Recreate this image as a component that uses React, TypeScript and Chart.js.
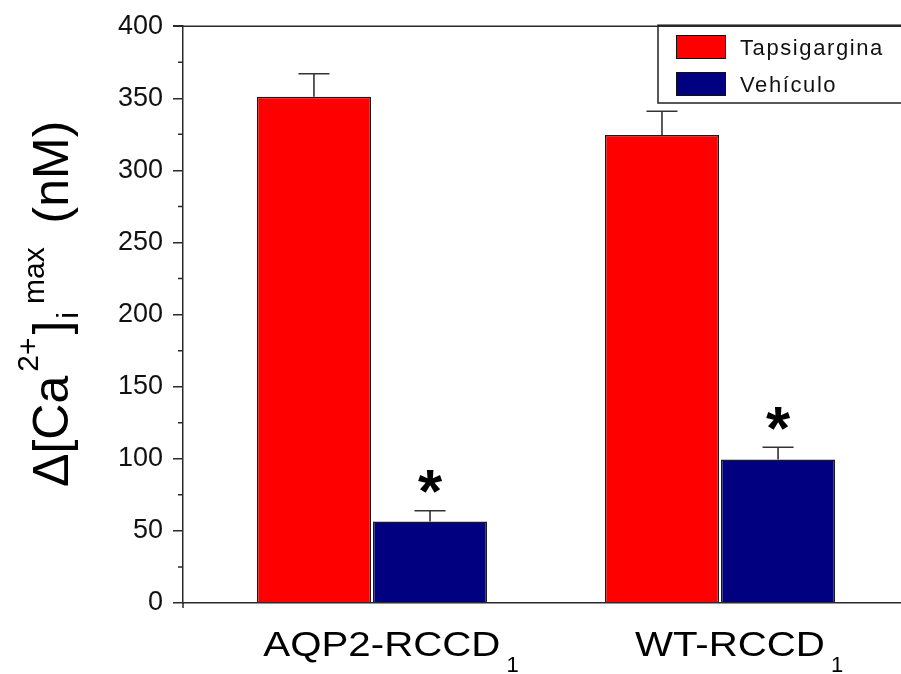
import React, { useEffect, useRef } from 'react';
import { Chart, registerables } from 'chart.js';

Chart.register(...registerables);

// ---- data ----
const categories = ['AQP2-RCCD', 'WT-RCCD'];
const categorySubscripts = ['1', '1'];
const seriesNames = ['Tapsigargina', 'Vehículo'];
const seriesColors = ['#ff0000', '#000080'];
const tapsigarginaValues = [351, 324.5];
const tapsigarginaErrors = [16, 16.5];
const vehiculoValues = [56.5, 99.5];
const vehiculoErrors = [7.5, 8.5];
const tapsigarginaMarks = ['', ''];
const vehiculoMarks = ['*', '*'];
const yTicks = [0, 50, 100, 150, 200, 250, 300, 350, 400];
const yMinorTicks = [25, 75, 125, 175, 225, 275, 325, 375];

const errorsBySeries = [tapsigarginaErrors, vehiculoErrors];
const marksBySeries = [tapsigarginaMarks, vehiculoMarks];

const FONT = '"Liberation Sans", Arial, Helvetica, sans-serif';
const AXIS = '#2a2a2a';

const decorPlugin = {
  id: 'decor',
  afterDatasetsDraw(chart: any) {
    const ctx = chart.ctx;
    const y = chart.scales.y;
    chart.data.datasets.forEach((ds: any, di: number) => {
      const meta = chart.getDatasetMeta(di);
      meta.data.forEach((el: any, i: number) => {
        const v = ds.data[i].y;
        const err = errorsBySeries[di][i];
        const yTop = y.getPixelForValue(v + err);
        ctx.save();
        ctx.strokeStyle = '#333';
        ctx.lineWidth = 1.6;
        ctx.beginPath();
        ctx.moveTo(el.x, el.y);
        ctx.lineTo(el.x, yTop);
        ctx.moveTo(el.x - 15.5, yTop);
        ctx.lineTo(el.x + 15.5, yTop);
        ctx.stroke();
        const mark = marksBySeries[di][i];
        if (mark) {
          ctx.font = `bold 62px ${FONT}`;
          ctx.fillStyle = '#000';
          ctx.textAlign = 'center';
          ctx.textBaseline = 'alphabetic';
          const m = ctx.measureText(mark);
          const cy = yTop - 29;
          const baseline = cy + (m.actualBoundingBoxAscent - m.actualBoundingBoxDescent) / 2;
          ctx.fillText(mark, el.x, baseline);
        }
        ctx.restore();
      });
    });
  },
  afterDraw(chart: any) {
    const ctx = chart.ctx;
    const area = chart.chartArea;
    const y = chart.scales.y;
    const x = chart.scales.x;
    ctx.save();
    // top frame line and axis extension
    ctx.strokeStyle = AXIS;
    ctx.lineWidth = 1.5;
    ctx.beginPath();
    ctx.moveTo(area.left - 10, area.top);
    ctx.lineTo(chart.width, area.top);
    ctx.moveTo(area.left, area.bottom);
    ctx.lineTo(area.left, area.bottom + 5);
    ctx.stroke();
    // minor ticks
    ctx.beginPath();
    yMinorTicks.forEach((v) => {
      const py = y.getPixelForValue(v);
      ctx.moveTo(area.left - 5, py);
      ctx.lineTo(area.left, py);
    });
    ctx.stroke();

    // x category labels
    categories.forEach((label, i) => {
      const cx = x.getPixelForValue(i + 1) + 19;
      const sx = 1.15;
      ctx.font = `35px ${FONT}`;
      const w1 = ctx.measureText(label).width * sx;
      ctx.font = `22px ${FONT}`;
      const w2 = ctx.measureText(categorySubscripts[i]).width;
      const total = w1 + 6 + w2;
      const left = cx - total / 2;
      ctx.fillStyle = '#000';
      ctx.textAlign = 'left';
      ctx.textBaseline = 'alphabetic';
      ctx.save();
      ctx.translate(left, 656);
      ctx.scale(sx, 1);
      ctx.font = `35px ${FONT}`;
      ctx.fillText(label, 0, 0);
      ctx.restore();
      ctx.font = `22px ${FONT}`;
      ctx.fillText(categorySubscripts[i], left + w1 + 6, 672);
    });

    // y title  Δ[Ca2+]i max (nM)
    ctx.save();
    ctx.translate(68, 487);
    ctx.rotate(-Math.PI / 2);
    ctx.fillStyle = '#000';
    ctx.textAlign = 'left';
    ctx.textBaseline = 'alphabetic';
    const big = `50px ${FONT}`;
    const sup = `30px ${FONT}`;
    let px = 0;
    const put = (t: string, f: string, dy: number, gap = 0) => {
      ctx.font = f;
      px += gap;
      ctx.fillText(t, px, dy);
      px += ctx.measureText(t).width;
    };
    put('\u0394[Ca', big, 0);
    put('2+', sup, -30, 4);
    put(']', big, 0, 3);
    put('i', sup, 10, 2);
    put('max', sup, -24, 8);
    put(' (nM)', big, 0, 10);
    ctx.restore();

    // legend
    const lx = 658;
    const ly = area.top - 1;
    const lb = 103;
    ctx.strokeStyle = '#222';
    ctx.lineWidth = 1.5;
    ctx.strokeRect(lx, ly, chart.width - lx + 10, lb - ly);
    const rows = [47, 84];
    chart.data.datasets.forEach((ds: any, di: number) => {
      const cy = rows[di];
      ctx.fillStyle = ds.backgroundColor;
      ctx.fillRect(676, cy - 12, 50, 24);
      ctx.strokeStyle = '#111';
      ctx.lineWidth = 1;
      ctx.strokeRect(676.5, cy - 11.5, 49, 23);
      ctx.fillStyle = '#111';
      ctx.font = `22px ${FONT}`;
      (ctx as any).letterSpacing = '1.6px';
      ctx.textAlign = 'left';
      ctx.textBaseline = 'alphabetic';
      ctx.fillText(ds.label, 740, cy + 8);
      (ctx as any).letterSpacing = '0px';
    });
    ctx.restore();
  },
};

export default function App() {
  const ref = useRef<HTMLCanvasElement | null>(null);
  useEffect(() => {
    const canvas = ref.current;
    if (!canvas) return;
    const values = [tapsigarginaValues, vehiculoValues];
    const chart = new Chart(canvas, {
      type: 'bar',
      data: {
        datasets: seriesNames.map((name, si) => ({
          label: name,
          data: categories.map((_, i) => ({ x: i + 1, y: values[si][i] })),
          backgroundColor: seriesColors[si],
          borderColor: '#1a1a1a',
          borderWidth: 1.5,
          categoryPercentage: 0.667,
          barPercentage: 0.983,
        })),
      },
      options: {
        animation: false,
        responsive: false,
        layout: { padding: { top: 24, right: 0, left: 0, bottom: 0 } },
        plugins: {
          legend: { display: false },
          tooltip: { enabled: false },
        },
        scales: {
          x: {
            type: 'linear',
            offset: false,
            min: 0.457,
            max: 2.52,
            afterBuildTicks: (s: any) => {
              s.ticks = categories.map((_, i) => ({ value: i + 1 }));
            },
            afterFit: (s: any) => {
              s.height = 71;
            },
            grid: { display: false, offset: false },
            border: { display: true, color: AXIS, width: 1.5 },
            ticks: { display: false },
          },
          y: {
            min: 0,
            max: 400,
            afterBuildTicks: (s: any) => {
              s.ticks = yTicks.map((v) => ({ value: v }));
            },
            afterFit: (s: any) => {
              s.width = 183;
            },
            grid: { drawOnChartArea: false, drawTicks: true, tickLength: 10, color: AXIS, lineWidth: 1.5 },
            border: { display: true, color: AXIS, width: 1.5 },
            ticks: { font: { family: FONT, size: 27 }, color: '#111', padding: 10 },
          },
        },
      } as any,
      plugins: [decorPlugin],
    });
    return () => chart.destroy();
  }, []);
  return (
    <canvas
      ref={ref}
      width={901}
      height={674}
      style={{ position: 'fixed', left: 0, top: 0, display: 'block' }}
    />
  );
}
